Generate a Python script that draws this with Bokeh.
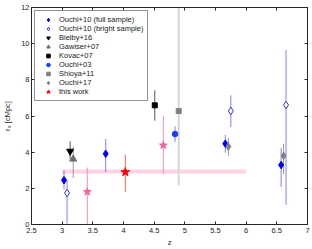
from bokeh.plotting import figure
from bokeh.models import LinearAxis, FixedTicker, Range1d, CustomLabelingPolicy
from bokeh.embed import file_html
from bokeh.resources import INLINE

# ---- data ----
x_ticks = [2.5, 3, 3.5, 4, 4.5, 5, 5.5, 6, 6.5, 7]
x_tick_labels = ["2.5", "3", "3.5", "4", "4.5", "5", "5.5", "6", "6.5", "7"]
y_ticks = [0, 2, 4, 6, 8, 10, 12]
y_tick_labels = ["0", "2", "4", "6", "8", "10", "12"]

o10f_z = [3.03, 3.71, 5.66, 6.57]
o10f_r = [2.45, 3.91, 4.47, 3.29]
o10f_lo = [1.95, 2.9, 3.97, 2.08]
o10f_hi = [2.98, 4.74, 4.96, 4.24]

o10b_z = [3.08, 5.75, 6.65]
o10b_r = [1.74, 6.28, 6.61]
o10b_lo = [0.05, 5.38, 1.09]
o10b_hi = [2.45, 7.14, 9.64]

b16_z = [3.13]
b16_r = [4.05]
b16_lo = [3.6]
b16_hi = [4.6]

g07_z = [3.18]
g07_r = [3.62]
g07_lo = [2.57]
g07_hi = [4.3]

k07_z = [4.51]
k07_r = [6.59]
k07_lo = [5.74]
k07_hi = [7.42]

o03_z = [4.84]
o03_r = [5.0]
o03_lo = [4.57]
o03_hi = [5.43]

s11_z = [4.9]
s11_r = [6.27]
s11_lo = [2.15]
s11_hi = [12.0]

o17_z = [5.71, 6.61]
o17_r = [4.31, 3.8]
o17_lo = [3.8, 2.79]
o17_hi = [4.78, 4.47]

tw_z = [4.03]
tw_r = [2.9]
tw_lo = [1.81]
tw_hi = [3.87]

twp_z = [3.41, 4.65]
twp_r = [1.81, 4.38]
twp_lo = [0.0, 2.8]
twp_hi = [3.15, 6.0]

band_z = [3.0, 6.0]
band_r = 2.93

FONT = "Liberation Sans"
AX = "#262626"

p = figure(width=312, height=249, x_range=Range1d(2.5, 7), y_range=Range1d(0, 12),
           output_backend="svg", toolbar_location=None,
           min_border_left=27, min_border_right=5, min_border_top=7, min_border_bottom=21)
p.xgrid.visible = False
p.ygrid.visible = False
p.outline_line_color = AX
p.background_fill_color = "white"
p.border_fill_color = "white"

def style_axis(ax, ticks, labels=None, show=True, lstand=2, astand=2):
    ax.ticker = FixedTicker(ticks=ticks)
    ax.major_tick_in = 3
    ax.major_tick_out = 0
    ax.minor_tick_line_color = None
    ax.axis_line_color = AX
    ax.major_tick_line_color = AX
    if show:
        ax.major_label_overrides = dict(zip(ticks, labels))
        ax.major_label_text_font = FONT
        ax.major_label_text_font_size = "7.5px"
        ax.major_label_text_color = "#222222"
        ax.major_label_standoff = lstand
        ax.axis_label_text_font = FONT
        ax.axis_label_text_font_size = "7.5px"
        ax.axis_label_text_font_style = "normal"
        ax.axis_label_text_color = "#222222"
        ax.axis_label_standoff = astand
    else:
        ax.major_label_policy = CustomLabelingPolicy(code="return []")
        ax.major_label_text_font_size = "0px"
        ax.major_label_standoff = 0

style_axis(p.xaxis[0], x_ticks, x_tick_labels, lstand=3, astand=2)
style_axis(p.yaxis[0], y_ticks, y_tick_labels, lstand=2, astand=6)
p.xaxis.axis_label = "z"
p.yaxis.axis_label = "r\u2080 [cMpc]"

ra = LinearAxis()
style_axis(ra, y_ticks, show=False)
p.add_layout(ra, "right")
ta = LinearAxis()
style_axis(ta, x_ticks, show=False)
p.add_layout(ta, "above")

# band
p.line(band_z, [band_r, band_r], line_color="#ffd2e4", line_width=4)

# error bars
def err(z, lo, hi, color, alpha=1.0, width=1):
    p.segment(x0=z, y0=lo, x1=z, y1=hi, line_color=color, line_alpha=alpha, line_width=width)

err(s11_z, s11_lo, s11_hi, "#d6d6d6", width=2)
err(o10f_z, o10f_lo, o10f_hi, "#2a2aff", alpha=0.6)
err(o10b_z, o10b_lo, o10b_hi, "#2a2aff", alpha=0.6)
err(b16_z, b16_lo, b16_hi, "#555555")
err(g07_z, g07_lo, g07_hi, "#9a9a9a")
err(k07_z, k07_lo, k07_hi, "#555555")
err(o03_z, o03_lo, o03_hi, "#7080ff")
err(o17_z, o17_lo, o17_hi, "#9a9a9a")
err(tw_z, tw_lo, tw_hi, "#ff6060")
err(twp_z, twp_lo, twp_hi, "#ff8fbd")

# markers (legend order)
p.scatter(o10f_z, o10f_r, marker="diamond", size=7.5, fill_color="#0000ff", line_color="#0000ff",
          legend_label="Ouchi+10 (full sample)")
p.scatter(o10b_z, o10b_r, marker="diamond", size=7.5, fill_color="white", line_color="#3030ff",
          legend_label="Ouchi+10 (bright sample)")
p.scatter(b16_z, b16_r, marker="inverted_triangle", size=7, fill_color="black", line_color="black",
          legend_label="Bielby+16")
p.scatter(g07_z, g07_r, marker="triangle", size=7, fill_color="#707070", line_color="#707070",
          legend_label="Gawiser+07")
p.scatter(k07_z, k07_r, marker="square", size=5, fill_color="black", line_color="black",
          legend_label="Kovac+07")
p.scatter(o03_z, o03_r, marker="circle", size=5.5, fill_color="#1a3cff", line_color="#1a3cff",
          legend_label="Ouchi+03")
p.scatter(s11_z, s11_r, marker="square", size=5, fill_color="#808080", line_color="#808080",
          legend_label="Shioya+11")
p.scatter(o17_z, o17_r, marker="diamond", size=7.5, fill_color="#808080", line_color="#808080",
          legend_label="Ouchi+17")
p.scatter(tw_z, tw_r, marker="star", size=9, fill_color="#ff0000", line_color="#ff0000",
          legend_label="this work")
p.scatter(twp_z, twp_r, marker="star", size=8, fill_color="#ff5c9a", line_color="#ff5c9a")

lg = p.legend[0]
lg.location = "top_left"
lg.margin = 3
lg.padding = 4
lg.spacing = 0
lg.label_height = 9
lg.glyph_height = 9
lg.glyph_width = 18
lg.label_standoff = 2
lg.label_text_font = FONT
lg.label_text_font_size = "7.5px"
lg.label_text_color = "#222222"
lg.border_line_color = AX
lg.border_line_width = 1
lg.background_fill_color = "white"
lg.background_fill_alpha = 1

open("out.html", "w").write(file_html(p, INLINE))
